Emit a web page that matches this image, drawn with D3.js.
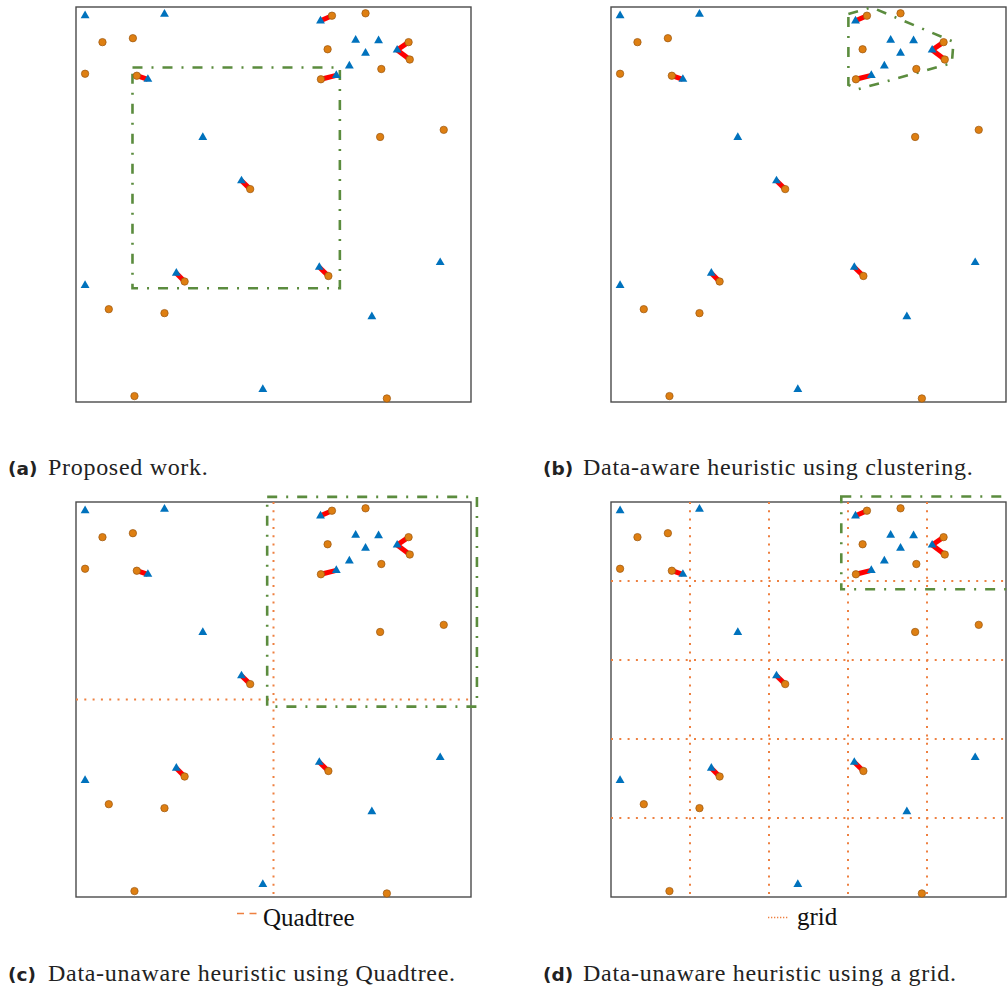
<!doctype html>
<html>
<head>
<meta charset="UTF-8">
<title>Matching heuristics</title>
<style>
  body { margin: 0; background: #fff; }
  svg { display: block; }
  .frame { fill: #fff; stroke: #4a4a4a; stroke-width: 1.4px; }
  .link { stroke: #ff0000; stroke-width: 5px; }
  .tri { fill: #0072bd; }
  .circ { fill: #de7f12; stroke: #9a5610; stroke-width: 0.7px; }
  .region { fill: none; stroke: #5b8c3e; stroke-width: 2.6px; stroke-dasharray: 10,9,2,9; }
  .split { stroke: #ee8040; stroke-width: 2px; stroke-dasharray: 2,6.3; }
  .cap-b { font-family: "DejaVu Sans", sans-serif; font-weight: bold; font-size: 18.5px; fill: #222; }
  .cap { font-family: "Liberation Serif", serif; font-size: 24px; fill: #222; letter-spacing: 0.7px; }
  .leg { font-family: "Liberation Serif", serif; font-size: 25px; fill: #111; }
</style>
</head>
<body>
<svg id="chart" width="1008" height="992"></svg>
<script src="https://d3js.org/d3.v7.min.js"></script>
<script>
// points in data units (0..100, y up)
const triX = [2.3, 22.4, 61.9, 70.8, 76.6, 73.3, 81.3, 18.2, 69.2, 65.9, 32.1, 41.9, 92.2, 61.6, 25.4, 2.3, 74.9, 47.3];
const triY = [97.8, 98.2, 96.5, 91.6, 91.5, 88.3, 89.1, 81.7, 85.1, 82.7, 67.0, 56.0, 35.3, 34.1, 32.6, 29.5, 21.6, 3.2];
const circX = [64.8, 73.3, 6.7, 14.4, 84.2, 84.5, 63.7, 2.3, 15.4, 77.3, 62.0, 77.0, 93.1, 44.1, 63.9, 27.5, 8.3, 22.4, 14.8, 78.7];
const circY = [97.8, 98.4, 91.1, 92.1, 91.1, 86.7, 89.3, 83.1, 82.6, 84.3, 81.7, 67.1, 68.9, 53.9, 31.9, 30.5, 23.5, 22.5, 1.5, 0.9];
// matched pairs: triangle index -> circle index
const linkTri = [2, 6, 6, 7, 9, 11, 13, 14];
const linkCirc = [0, 4, 5, 8, 10, 13, 14, 15];

// regions found by each method
const rectA = [14.3, 28.8, 66.8, 84.7];        // x0, y0, x1, y1
const hullBX = [60.1, 66.0, 86.7, 86.3, 62.6, 60.1];
const hullBY = [98.2, 99.9, 91.2, 85.8, 79.2, 80.3];
const rectC = [48.4, 48.2, 101.5, 101.3];
const rectD = [58.3, 77.9, 104, 101.4];
const quadSplits = [50];
const gridSplits = [20, 40, 60, 80];

const captions = [
  { tag: "(a)", text: "Proposed work." },
  { tag: "(b)", text: "Data-aware heuristic using clustering." },
  { tag: "(c)", text: "Data-unaware heuristic using Quadtree." },
  { tag: "(d)", text: "Data-unaware heuristic using a grid." }
];

const size = 395;
const panelPos = [[76, 7], [611, 7], [76, 502], [611, 502]];
const captionPos = [[8, 475], [543, 475], [8, 981], [543, 981]];

const x = d3.scaleLinear().domain([0, 100]).range([0, size]);
const y = d3.scaleLinear().domain([0, 100]).range([size, 0]);

const svg = d3.select("#chart");

function drawPoints(g) {
  g.selectAll(".link")
    .data(d3.range(linkTri.length))
    .join("line")
    .attr("class", "link")
    .attr("x1", i => x(triX[linkTri[i]]))
    .attr("y1", i => y(triY[linkTri[i]]))
    .attr("x2", i => x(circX[linkCirc[i]]))
    .attr("y2", i => y(circY[linkCirc[i]]));

  g.selectAll(".circ")
    .data(d3.range(circX.length))
    .join("circle")
    .attr("class", "circ")
    .attr("cx", i => x(circX[i]))
    .attr("cy", i => y(circY[i]))
    .attr("r", 3.7);

  g.selectAll(".tri")
    .data(d3.range(triX.length))
    .join("path")
    .attr("class", "tri")
    .attr("d", d3.symbol(d3.symbolTriangle, 34))
    .attr("transform", i => `translate(${x(triX[i])},${y(triY[i])})`);
}

function drawRect(g, r) {
  g.append("rect")
    .attr("class", "region")
    .attr("x", x(r[0]))
    .attr("y", y(r[3]))
    .attr("width", x(r[2]) - x(r[0]))
    .attr("height", y(r[1]) - y(r[3]));
}

function drawSplits(g, vals) {
  g.selectAll(".vsplit").data(vals).join("line")
    .attr("class", "split vsplit")
    .attr("x1", d => x(d)).attr("x2", d => x(d))
    .attr("y1", 0).attr("y2", size);
  g.selectAll(".hsplit").data(vals).join("line")
    .attr("class", "split hsplit")
    .attr("y1", d => y(d)).attr("y2", d => y(d))
    .attr("x1", 0).attr("x2", size);
}

const panels = panelPos.map(p => {
  const g = svg.append("g").attr("transform", `translate(${p[0]},${p[1]})`);
  g.append("rect").attr("class", "frame").attr("width", size).attr("height", size);
  return g;
});

// (a) proposed
drawRect(panels[0], rectA);
// (b) clustering hull
panels[1].append("path")
  .attr("class", "region")
  .attr("d", d3.line().x(d => x(d[0])).y(d => y(d[1])).curve(d3.curveLinearClosed)(d3.zip(hullBX, hullBY)));
// (c) quadtree
drawSplits(panels[2], quadSplits);
drawRect(panels[2], rectC);
// (d) grid
drawSplits(panels[3], gridSplits);
drawRect(panels[3], rectD);

panels.forEach(drawPoints);

// legends
svg.append("line")
  .attr("x1", 237).attr("x2", 257).attr("y1", 913.5).attr("y2", 913.5)
  .attr("stroke", "#ee8040").attr("stroke-width", 1.6).attr("stroke-dasharray", "7,5.5");
svg.append("text").attr("class", "leg").attr("x", 263).attr("y", 926).text("Quadtree");

svg.append("line")
  .attr("x1", 768).attr("x2", 789).attr("y1", 917.5).attr("y2", 917.5)
  .attr("stroke", "#ee8040").attr("stroke-width", 1.5).attr("stroke-dasharray", "1.3,1.7");
svg.append("text").attr("class", "leg").attr("x", 797).attr("y", 925).text("grid");

// captions
captions.forEach((c, i) => {
  const [cx, cy] = captionPos[i];
  svg.append("text").attr("class", "cap-b").attr("x", cx).attr("y", cy).text(c.tag);
  svg.append("text").attr("class", "cap").attr("x", cx + 40).attr("y", cy).text(c.text);
});
</script>
</body>
</html>
